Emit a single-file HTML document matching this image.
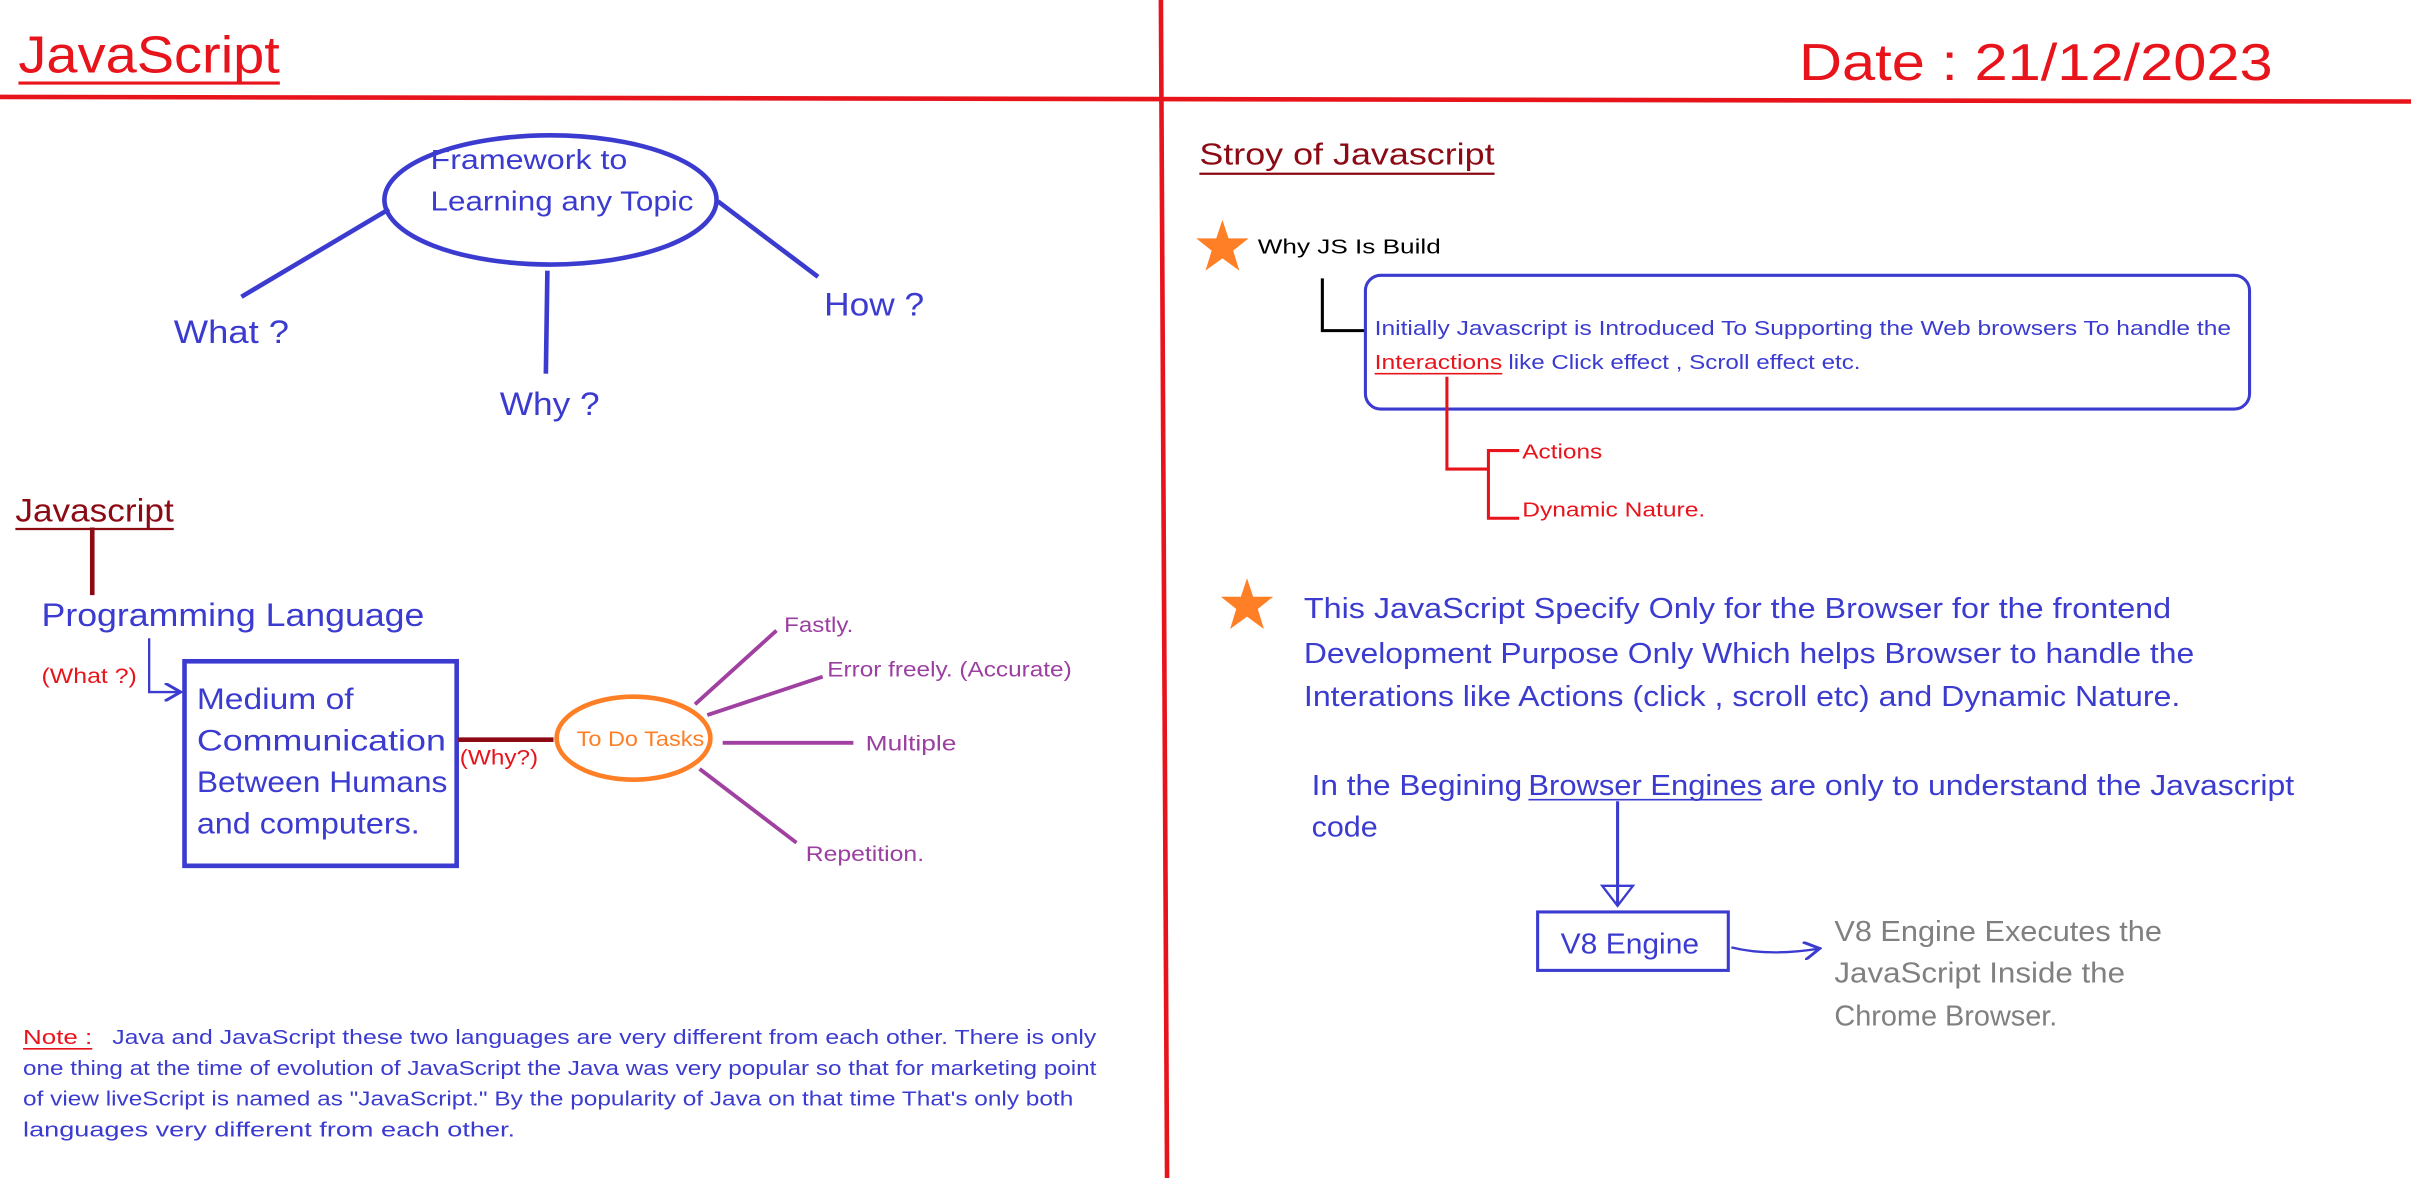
<!DOCTYPE html>
<html><head><meta charset="utf-8"><style>
html,body{margin:0;padding:0;background:#fff;width:2411px;height:1178px;overflow:hidden}
svg{display:block}
text{font-family:"Liberation Sans",sans-serif}
</style></head><body>
<svg width="2411" height="1178" viewBox="0 0 1568 766" preserveAspectRatio="none" xmlns="http://www.w3.org/2000/svg">
<defs>
<marker id="ab" markerWidth="8" markerHeight="8" refX="6" refY="4" orient="auto"><path d="M0,0 L7,4 L0,8" fill="none" stroke="#3b3bd0" stroke-width="1.3"/></marker>
</defs>
<line x1="0" y1="63" x2="1568" y2="66" stroke="#e8141c" stroke-width="3"/>
<line x1="755" y1="0" x2="759" y2="766" stroke="#e8141c" stroke-width="3"/>
<text x="12" y="47" font-size="34" fill="#e8141c" textLength="170" lengthAdjust="spacingAndGlyphs">JavaScript</text>
<line x1="12" y1="54" x2="182" y2="54" stroke="#e8141c" stroke-width="2"/>
<text x="1170" y="52" font-size="34" fill="#e8141c" textLength="308" lengthAdjust="spacingAndGlyphs">Date : 21/12/2023</text>

<g stroke="#3b3bd0" stroke-width="3" fill="none">
<ellipse cx="358" cy="130" rx="108" ry="42"/>
<line x1="253" y1="136" x2="157" y2="193"/>
<line x1="356" y1="176" x2="355" y2="243"/>
<line x1="467" y1="131" x2="532" y2="180"/>
<rect x="120" y="430" width="177" height="133"/>
</g>
<g fill="#3b3bd0">
<text x="280" y="110" font-size="18" textLength="128" lengthAdjust="spacingAndGlyphs">Framework to</text>
<text x="280" y="137" font-size="18" textLength="171" lengthAdjust="spacingAndGlyphs">Learning any Topic</text>
<text x="113" y="223" font-size="21" textLength="75" lengthAdjust="spacingAndGlyphs">What ?</text>
<text x="325" y="270" font-size="21" textLength="65" lengthAdjust="spacingAndGlyphs">Why ?</text>
<text x="536" y="205" font-size="21" textLength="65" lengthAdjust="spacingAndGlyphs">How ?</text>
<text x="27" y="407" font-size="21" textLength="249" lengthAdjust="spacingAndGlyphs">Programming Language</text>
<text x="128" y="461" font-size="19" textLength="102" lengthAdjust="spacingAndGlyphs">Medium of</text>
<text x="128" y="488" font-size="19" textLength="162" lengthAdjust="spacingAndGlyphs">Communication</text>
<text x="128" y="515" font-size="19" textLength="163" lengthAdjust="spacingAndGlyphs">Between Humans</text>
<text x="128" y="542" font-size="19" textLength="145" lengthAdjust="spacingAndGlyphs">and computers.</text>
</g>
<text x="10" y="339" font-size="21" fill="#8b0a14" textLength="103" lengthAdjust="spacingAndGlyphs">Javascript</text>
<line x1="10" y1="344" x2="113" y2="344" stroke="#8b0a14" stroke-width="1.5"/>
<line x1="60" y1="343" x2="60" y2="387" stroke="#8b0a14" stroke-width="3"/>
<text x="27" y="444" font-size="14" fill="#e8141c" textLength="62" lengthAdjust="spacingAndGlyphs">(What ?)</text>
<path d="M97,415 L97,450 L116,450" fill="none" stroke="#3b3bd0" stroke-width="1.5" marker-end="url(#ab)"/>
<line x1="298" y1="481" x2="360" y2="481" stroke="#8b0a14" stroke-width="3"/>
<text x="299" y="497" font-size="14" fill="#e8141c" textLength="51" lengthAdjust="spacingAndGlyphs">(Why?)</text>
<ellipse cx="412" cy="480" rx="50" ry="27" fill="none" stroke="#ff7f27" stroke-width="3"/>
<text x="375" y="485" font-size="14" fill="#ff7f27" textLength="83" lengthAdjust="spacingAndGlyphs">To Do Tasks</text>
<g stroke="#a040a0" stroke-width="2.5">
<line x1="452" y1="458" x2="505" y2="410"/>
<line x1="460" y1="465" x2="535" y2="440"/>
<line x1="470" y1="483" x2="555" y2="483"/>
<line x1="455" y1="500" x2="518" y2="548"/>
</g>
<g fill="#9b3fa0" font-size="14">
<text x="510" y="411" textLength="45" lengthAdjust="spacingAndGlyphs">Fastly.</text>
<text x="538" y="440" textLength="159" lengthAdjust="spacingAndGlyphs">Error freely. (Accurate)</text>
<text x="563" y="488" textLength="59" lengthAdjust="spacingAndGlyphs">Multiple</text>
<text x="524" y="560" textLength="77" lengthAdjust="spacingAndGlyphs">Repetition.</text>
</g>
<text x="15" y="679" font-size="13.5" fill="#e8141c" textLength="45" lengthAdjust="spacingAndGlyphs">Note :</text>
<line x1="15" y1="682" x2="60" y2="682" stroke="#e8141c" stroke-width="1"/>
<g fill="#3b3bd0" font-size="13.5">
<text x="73" y="679" textLength="640" lengthAdjust="spacingAndGlyphs">Java and JavaScript these two languages are very different from each other. There is only</text>
<text x="15" y="699" textLength="698" lengthAdjust="spacingAndGlyphs">one thing at the time of evolution of JavaScript the Java was very popular so that for marketing point</text>
<text x="15" y="719" textLength="683" lengthAdjust="spacingAndGlyphs">of view liveScript is named as "JavaScript." By the popularity of Java on that time That's only both</text>
<text x="15" y="739" textLength="320" lengthAdjust="spacingAndGlyphs">languages very different from each other.</text>
</g>

<text x="780" y="107" font-size="20" fill="#8b0a14" textLength="192" lengthAdjust="spacingAndGlyphs">Stroy of Javascript</text>
<line x1="780" y1="113" x2="972" y2="113" stroke="#8b0a14" stroke-width="1.5"/>
<polygon points="795,143 799,155 812,155 802,163 806,176 795,168 784,176 788,163 778,155 791,155" fill="#ff7f27"/>
<text x="818" y="165" font-size="13.5" fill="#000" textLength="119" lengthAdjust="spacingAndGlyphs">Why JS Is Build</text>
<path d="M860,181 L860,215 L888,215" fill="none" stroke="#000" stroke-width="2"/>
<rect x="888" y="179" width="575" height="87" rx="10" fill="none" stroke="#3b3bd0" stroke-width="2"/>
<text x="894" y="218" font-size="13.5" fill="#3b3bd0" textLength="557" lengthAdjust="spacingAndGlyphs">Initially Javascript is Introduced To Supporting the Web browsers To handle the</text>
<text x="894" y="240" font-size="13.5" fill="#e8141c" textLength="83" lengthAdjust="spacingAndGlyphs">Interactions</text>
<line x1="894" y1="243" x2="977" y2="243" stroke="#e8141c" stroke-width="1"/>
<text x="981" y="240" font-size="13.5" fill="#3b3bd0" textLength="229" lengthAdjust="spacingAndGlyphs">like Click effect , Scroll effect etc.</text>
<g stroke="#e8141c" stroke-width="2" fill="none">
<path d="M941,245 L941,305 L968,305"/>
<path d="M988,293 L968,293 L968,337 L988,337"/>
</g>
<text x="990" y="298" font-size="13.5" fill="#e8141c" textLength="52" lengthAdjust="spacingAndGlyphs">Actions</text>
<text x="990" y="336" font-size="13.5" fill="#e8141c" textLength="119" lengthAdjust="spacingAndGlyphs">Dynamic Nature.</text>
<polygon points="811,376 815,388 828,388 818,396 822,409 811,401 800,409 804,396 794,388 807,388" fill="#ff7f27"/>
<g fill="#3b3bd0" font-size="18.5">
<text x="848" y="402" textLength="564" lengthAdjust="spacingAndGlyphs">This JavaScript Specify Only for the Browser for the frontend</text>
<text x="848" y="431" textLength="579" lengthAdjust="spacingAndGlyphs">Development Purpose Only Which helps Browser to handle the</text>
<text x="848" y="459" textLength="570" lengthAdjust="spacingAndGlyphs">Interations like Actions (click , scroll etc) and Dynamic Nature.</text>
<text x="853" y="517" textLength="137" lengthAdjust="spacingAndGlyphs">In the Begining</text>
<text x="994" y="517" textLength="152" lengthAdjust="spacingAndGlyphs">Browser Engines</text>
<text x="1151" y="517" textLength="341" lengthAdjust="spacingAndGlyphs">are only to understand the Javascript</text>
<text x="853" y="544" textLength="43" lengthAdjust="spacingAndGlyphs">code</text>
<text x="1015" y="620" textLength="90" lengthAdjust="spacingAndGlyphs">V8 Engine</text>
</g>
<line x1="994" y1="520" x2="1146" y2="520" stroke="#3b3bd0" stroke-width="1"/>
<line x1="1052" y1="521" x2="1052" y2="588" stroke="#3b3bd0" stroke-width="2"/>
<path d="M1042,576 L1062,576 L1052,589 Z" fill="none" stroke="#3b3bd0" stroke-width="1.5"/>
<rect x="1000" y="593" width="124" height="38" fill="none" stroke="#3b3bd0" stroke-width="2"/>
<path d="M1126,616 Q1150,622 1182,617" fill="none" stroke="#3b3bd0" stroke-width="1.5" marker-end="url(#ab)"/>
<g fill="#808080" font-size="18.5">
<text x="1193" y="612" textLength="213" lengthAdjust="spacingAndGlyphs">V8 Engine Executes the</text>
<text x="1193" y="639" textLength="189" lengthAdjust="spacingAndGlyphs">JavaScript Inside the</text>
<text x="1193" y="667" textLength="145" lengthAdjust="spacingAndGlyphs">Chrome Browser.</text>
</g>
</svg>
</body></html>
